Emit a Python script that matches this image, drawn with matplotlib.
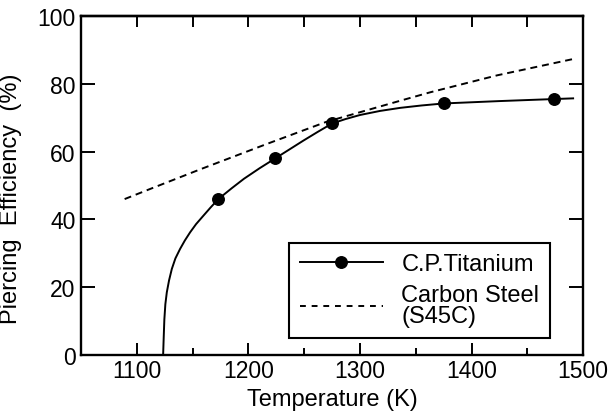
import numpy as np
import matplotlib
matplotlib.use("Agg")
import matplotlib.pyplot as plt
from matplotlib.ticker import MultipleLocator

# --- Data ---
# C.P. Titanium measured points
ti_temp = [1173, 1224, 1275, 1375, 1474]
ti_eff = [46, 58, 68.3, 74.2, 75.5]

# C.P. Titanium fitted curve (hand-traced)
ti_curve_temp = [1123.5, 1124, 1124.6, 1125.5, 1126.8, 1128.8, 1131.3, 1134.5, 1138.7,
                 1143, 1147.7, 1153, 1159.6, 1166, 1173, 1185, 1196, 1210, 1224,
                 1237, 1249, 1262, 1275, 1287, 1300, 1318, 1336, 1355, 1375,
                 1425, 1474, 1491]
ti_curve_eff = [0, 5, 10.5, 15, 18.5, 22, 25.4, 28.5, 31.3,
                33.8, 36.2, 38.6, 41.1, 43.5, 46, 49.2, 52, 55.1, 58,
                60.7, 63.2, 65.8, 68.3, 69.6, 70.8, 72, 72.9, 73.6, 74.2,
                74.9, 75.5, 75.7]

# Carbon steel (S45C) trend (hand-traced)
cs_temp = [1089, 1112, 1157, 1216, 1270, 1336, 1363, 1423, 1491]
cs_eff = [46, 49, 54.8, 62.2, 68.8, 75.0, 77.5, 82.5, 87.3]

plt.rcParams['font.family'] = ['Liberation Sans', 'DejaVu Sans']

fig = plt.figure(figsize=(6.1, 4.14), dpi=100)
ax = fig.add_axes([0.133, 0.140, 0.823, 0.819])

dash = (0, (3.6, 2.5))
ax.plot(ti_curve_temp, ti_curve_eff, color='black', linewidth=1.4)
ax.plot(ti_temp, ti_eff, linestyle='none', marker='o', color='black', markersize=8.3)
ax.plot(cs_temp, cs_eff, color='black', linestyle=dash, linewidth=1.4)

# legend proxies
h1, = ax.plot([], [], color='black', linewidth=1.4, marker='o', markersize=8.3,
              label='C.P.Titanium')
h2, = ax.plot([], [], color='black', linewidth=1.4, linestyle=(0, (3.0, 3.0)),
              label='Carbon Steel\n(S45C)')

ax.set_xlim(1050, 1500)
ax.set_ylim(0, 100)
ax.xaxis.set_major_locator(MultipleLocator(100))
ax.xaxis.set_minor_locator(MultipleLocator(50))
ax.yaxis.set_major_locator(MultipleLocator(20))

ax.tick_params(axis='both', which='major', direction='in', labelsize=16.5,
               width=1.4, length=9, pad=3)
ax.tick_params(axis='y', which='major', right=True, length=10, pad=4)
ax.tick_params(axis='x', which='minor', direction='in', width=1.4, length=5)

# top axis: uniform ticks every 50, no labels
top = ax.secondary_xaxis('top')
top.xaxis.set_major_locator(MultipleLocator(50))
top.tick_params(direction='in', length=8, width=1.4, labeltop=False)
top.spines['top'].set_linewidth(1.7)

for s in ax.spines.values():
    s.set_linewidth(1.7)

ax.set_xlabel('Temperature (K)', fontsize=17, labelpad=4)
ax.set_ylabel('Piercing  Efficiency  (%)', fontsize=17,
              family=['Liberation Sans Narrow', 'Liberation Sans'])
ax.yaxis.set_label_coords(-0.118, 0.465)

leg = ax.legend(handles=[h1, h2], loc='lower right', bbox_to_anchor=(0.934, 0.05),
                borderaxespad=0, fontsize=17, handlelength=3.5, handletextpad=0.8,
                labelspacing=0.38, fancybox=False, framealpha=1, edgecolor='black',
                borderpad=0.45)
leg.get_frame().set_linewidth(1.5)
for t in leg.get_texts():
    t.set_linespacing(0.95)

fig.savefig('out.png', dpi=100)
